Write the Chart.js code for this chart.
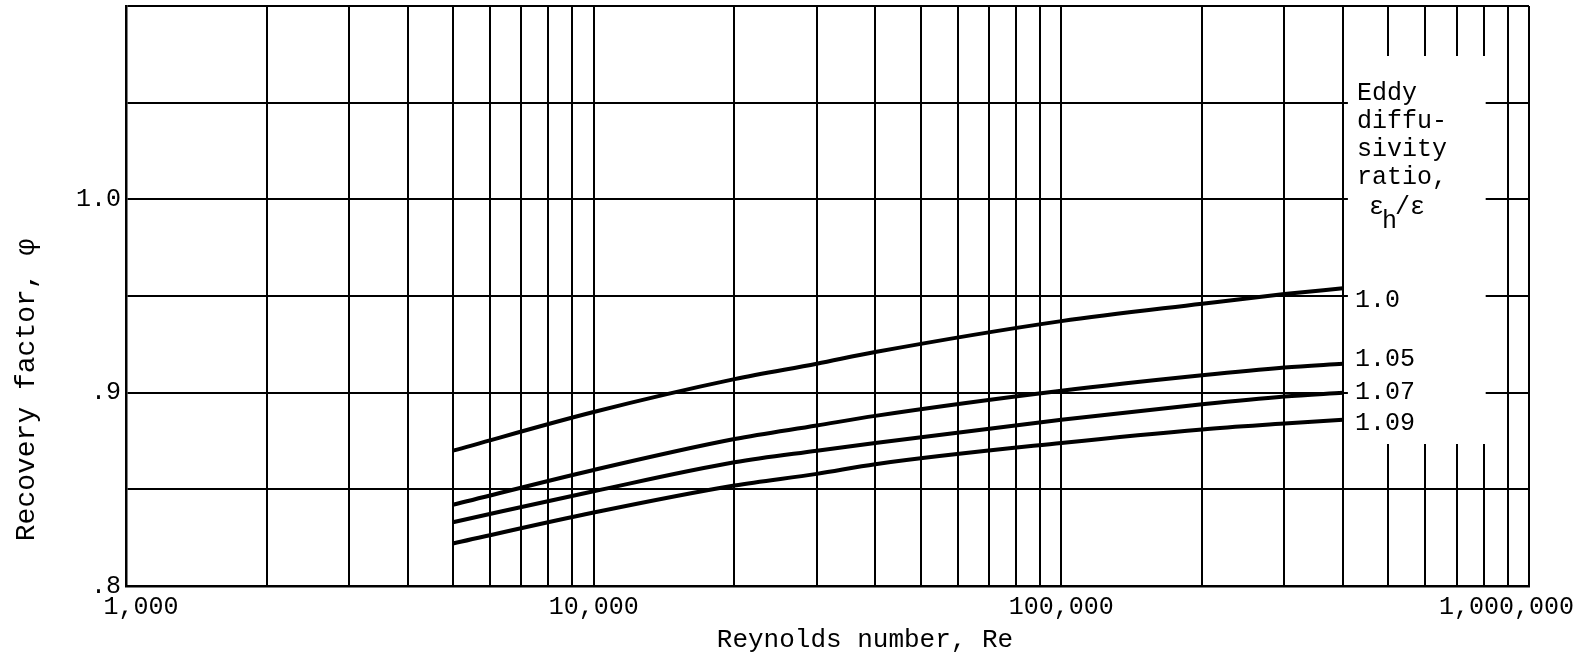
<!DOCTYPE html>
<html>
<head>
<meta charset="utf-8">
<script src="https://cdn.jsdelivr.net/npm/chart.js@4.4.0/dist/chart.umd.min.js"></script>
<style>
  html, body { margin: 0; padding: 0; background: #fff; }
</style>
</head>
<body>
<canvas id="myChart" width="1587" height="661"></canvas>
<script>
// reynolds numbers where the curves were read
const reynolds = [5000, 10000, 20000, 30000, 40000, 100000, 200000, 300000, 400000];

// recovery factor, one array per eddy diffusivity ratio
const phi_100 = [0.870, 0.890, 0.907, 0.915, 0.921, 0.937, 0.946, 0.951, 0.954];
const phi_105 = [0.842, 0.860, 0.876, 0.883, 0.888, 0.901, 0.909, 0.913, 0.915];
const phi_107 = [0.833, 0.849, 0.864, 0.870, 0.874, 0.886, 0.894, 0.898, 0.900];
const phi_109 = [0.822, 0.838, 0.852, 0.858, 0.863, 0.874, 0.881, 0.884, 0.886];
const ratioLabels = ['1.0', '1.05', '1.07', '1.09'];

// tick labels
const decades = [1000, 10000, 100000, 1000000];
const decadeLabels = ['1,000', '10,000', '100,000', '1,000,000'];
const yTickValues = [0.8, 0.9, 1.0];
const yTickLabels = ['.8', '.9', '1.0'];
const yGrid = [0.8, 0.85, 0.9, 0.95, 1.0, 1.05, 1.1];

const legendTitle = ['Eddy', 'diffu-', 'sivity', 'ratio,'];

const FONT = '"Liberation Mono", "DejaVu Sans Mono", monospace';

// grid lines at 1..9 of every decade
function logGrid() {
    let vals = [];
    for (let d = 0; d < decades.length - 1; d++) {
        for (let m = 1; m < 10; m++) {
            vals.push(decades[d] * m);
        }
    }
    vals.push(decades[decades.length - 1]);
    return vals;
}

const allSeries = [phi_100, phi_105, phi_107, phi_109];

const datasets = allSeries.map(function (phi, i) {
    return {
        label: ratioLabels[i],
        data: reynolds.map(function (re, j) { return {x: re, y: phi[j]}; }),
        borderColor: '#000',
        borderWidth: 4,
        pointRadius: 0,
        fill: false,
        cubicInterpolationMode: 'monotone'
    };
});

// white box behind the legend text, plus all the free text
const legendBox = {
    id: 'legendBox',
    beforeDatasetsDraw(chart) {
        const ctx = chart.ctx;
        const x = chart.scales.x;
        const left = x.getPixelForValue(400000) + 5;
        const right = x.getPixelForValue(800000) + 2;
        ctx.save();
        ctx.fillStyle = '#fff';
        ctx.fillRect(left, 56, right - left, 444 - 56);
        ctx.restore();
    },
    afterDraw(chart) {
        const ctx = chart.ctx;
        const x = chart.scales.x;
        const y = chart.scales.y;
        const textLeft = x.getPixelForValue(400000) + 14;
        ctx.save();
        ctx.fillStyle = '#000';
        ctx.font = '25px ' + FONT;
        ctx.textBaseline = 'alphabetic';
        ctx.textAlign = 'left';

        legendTitle.forEach(function (line, i) {
            ctx.fillText(line, textLeft, 100 + i * 28);
        });
        // eps_h / eps
        const ex = textLeft + 12;
        ctx.fillText('\u03b5', ex, 214);
        ctx.fillText('h', ex + 13, 228);
        ctx.fillText('/\u03b5', ex + 26, 214);

        // ratio labels next to the curve ends, spread a little apart
        const nudge = [12, -4, 0, 4];
        ctx.textBaseline = 'middle';
        allSeries.forEach(function (phi, i) {
            const py = y.getPixelForValue(phi[phi.length - 1]) + nudge[i];
            ctx.fillText(ratioLabels[i], textLeft - 2, py);
        });

        // axis titles
        ctx.font = '26px ' + FONT;
        ctx.textAlign = 'center';
        ctx.fillText('Reynolds number, Re', 865, 640);
        ctx.font = '28px ' + FONT;
        ctx.translate(27, 390);
        ctx.rotate(-Math.PI / 2);
        ctx.fillText('Recovery factor, \u03c6', 0, 0);
        ctx.restore();
    }
};

const config = {
    type: 'line',
    data: {datasets: datasets},
    options: {
        responsive: false,
        animation: false,
        devicePixelRatio: 1,
        layout: {padding: {top: 6, right: 58, left: 0, bottom: 0}},
        plugins: {
            legend: {display: false},
            tooltip: {enabled: false}
        },
        scales: {
            x: {
                type: 'logarithmic',
                min: 1000,
                max: 1000000,
                afterBuildTicks: function (scale) {
                    scale.ticks = logGrid().map(function (v) { return {value: v}; });
                },
                afterFit: function (scale) {
                    scale.height = 75;
                    scale.paddingLeft = 0;
                    scale.paddingRight = 0;
                },
                ticks: {
                    autoSkip: false,
                    maxRotation: 0,
                    padding: 6,
                    color: '#000',
                    font: {family: FONT, size: 25},
                    callback: function (value) {
                        const k = decades.indexOf(value);
                        if (k < 0) return '';
                        // first label sits right of the corner, last one left of it
                        if (k === 0) return '  ' + decadeLabels[k];
                        if (k === decades.length - 1) return decadeLabels[k] + '   ';
                        return decadeLabels[k];
                    }
                },
                grid: {color: '#000', lineWidth: 2, drawTicks: false},
                border: {color: '#000', width: 2.5}
            },
            y: {
                type: 'linear',
                min: 0.8,
                max: 1.1,
                afterBuildTicks: function (scale) {
                    scale.ticks = yGrid.map(function (v) { return {value: v}; });
                },
                afterFit: function (scale) {
                    scale.width = 126;
                    scale.paddingTop = 0;
                    scale.paddingBottom = 0;
                },
                ticks: {
                    autoSkip: false,
                    padding: 5,
                    color: '#000',
                    font: {family: FONT, size: 25},
                    callback: function (value) {
                        for (let i = 0; i < yTickValues.length; i++) {
                            if (Math.abs(value - yTickValues[i]) < 1e-6) return yTickLabels[i];
                        }
                        return '';
                    }
                },
                grid: {color: '#000', lineWidth: 2, drawTicks: false},
                border: {color: '#000', width: 2.5}
            }
        }
    },
    plugins: [legendBox]
};

const myChart = new Chart(document.getElementById('myChart'), config);
</script>
</body>
</html>
